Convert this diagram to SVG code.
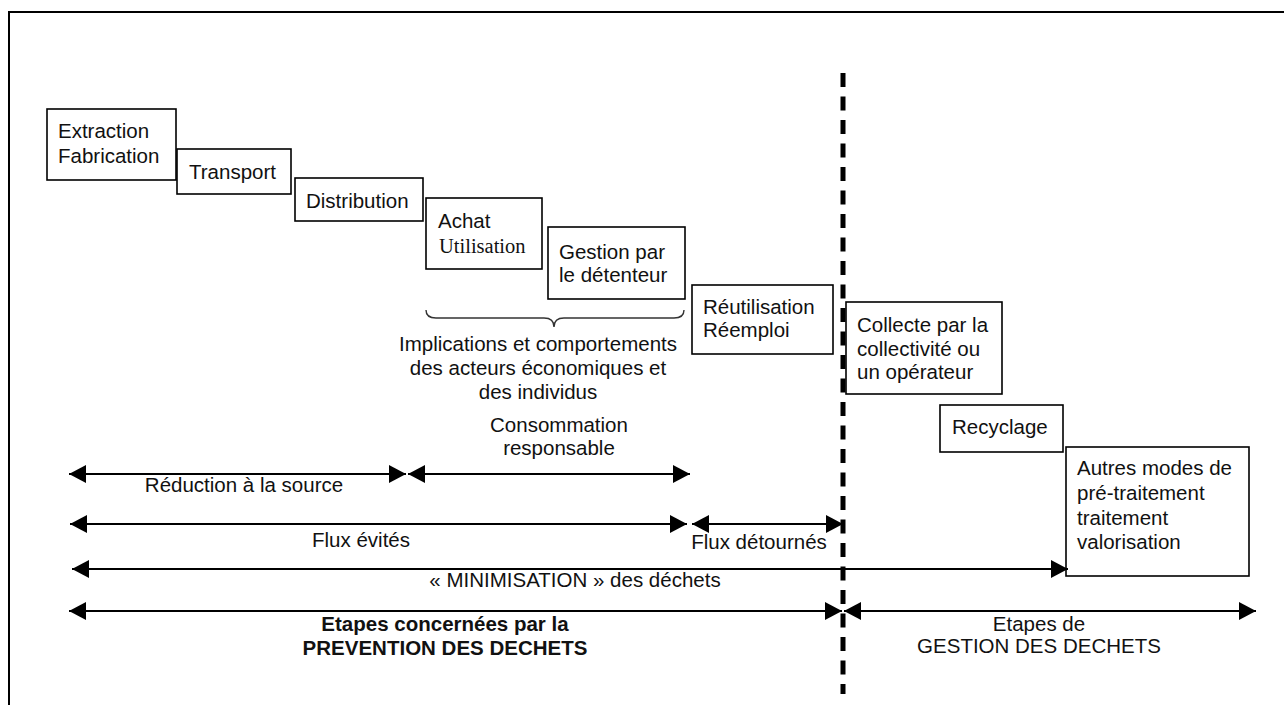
<svg xmlns="http://www.w3.org/2000/svg" width="1284" height="705" viewBox="0 0 1284 705">
<defs>
<style>
.box{fill:#fff;stroke:#000;stroke-width:1.6}
.t{font-family:"Liberation Sans",Arial,sans-serif;font-size:20.5px;fill:#111}
.ts{font-family:"Liberation Serif","Times New Roman",serif;font-size:20.5px;fill:#111}
.b{font-weight:bold}
.c{text-anchor:middle}
.ar{stroke:#000;stroke-width:1.8;fill:none;marker-start:url(#ah);marker-end:url(#ah)}
</style>
<marker id="ah" markerUnits="userSpaceOnUse" markerWidth="18" markerHeight="18" refX="17" refY="9" orient="auto-start-reverse">
<path d="M0,0 L17,9 L0,18 z" fill="#000"/>
</marker>
</defs>
<rect width="1284" height="705" fill="#fff"/>
<g id="frame" stroke="#000" stroke-width="2" fill="none">
<path d="M9,705 L9,12 L1284,12"/>
</g>
<g id="divider">
<line x1="843" y1="73" x2="843" y2="694" stroke="#000" stroke-width="5" stroke-dasharray="14 9.5"/>
</g>
<g id="n-extraction"><rect class="box" x="47" y="109" width="129" height="71"/><text class="t" x="58" y="138">Extraction</text><text class="t" x="58" y="163">Fabrication</text></g>
<g id="n-transport"><rect class="box" x="177" y="149" width="114" height="45"/><text class="t" x="189" y="179">Transport</text></g>
<g id="n-distribution"><rect class="box" x="295" y="178" width="128" height="43"/><text class="t" x="306" y="208">Distribution</text></g>
<g id="n-achat"><rect class="box" x="426" y="198" width="116" height="71"/><text class="t" x="438" y="228">Achat</text><text class="ts" x="439" y="253">Utilisation</text></g>
<g id="n-gestion"><rect class="box" x="548" y="227" width="137" height="72"/><text class="t" x="559" y="259">Gestion par</text><text class="t" x="559" y="282">le détenteur</text></g>
<g id="n-reutilisation"><rect class="box" x="692" y="285" width="141" height="69"/><text class="t" x="703" y="314">Réutilisation</text><text class="t" x="703" y="337">Réemploi</text></g>
<g id="n-collecte"><rect class="box" x="846" y="302" width="156" height="92"/><text class="t" x="857" y="332">Collecte par la</text><text class="t" x="857" y="356">collectivité ou</text><text class="t" x="857" y="379">un opérateur</text></g>
<g id="n-recyclage"><rect class="box" x="940" y="405" width="123" height="47"/><text class="t" x="952" y="434">Recyclage</text></g>
<g id="n-autres"><rect class="box" x="1066" y="447" width="183" height="129"/><text class="t" x="1077" y="475">Autres modes de</text><text class="t" x="1077" y="500">pré-traitement</text><text class="t" x="1077" y="525">traitement</text><text class="t" x="1077" y="549">valorisation</text></g>
<g id="brace">
<path d="M426,310 Q426,318 436,318 L544,318 Q554,318 554,327 Q554,318 564,318 L674,318 Q684,318 684,310" fill="none" stroke="#333" stroke-width="1.4"/>
<text class="t c" x="538" y="351">Implications et comportements</text>
<text class="t c" x="538" y="375">des acteurs économiques et</text>
<text class="t c" x="538" y="399">des individus</text>
</g>
<g id="connectors">
<line class="ar" x1="69" y1="474" x2="406" y2="474"/>
<line class="ar" x1="408" y1="474" x2="690" y2="474"/>
<line class="ar" x1="70" y1="524" x2="687" y2="524"/>
<line class="ar" x1="692" y1="524" x2="843" y2="524"/>
<line class="ar" x1="72" y1="569" x2="1068" y2="569"/>
<line class="ar" x1="69" y1="611" x2="842" y2="611"/>
<line class="ar" x1="844" y1="611" x2="1256" y2="611"/>
</g>
<g id="labels">
<text class="t c" x="559" y="432">Consommation</text>
<text class="t c" x="559" y="455">responsable</text>
<text class="t c" x="244" y="492">Réduction à la source</text>
<text class="t c" x="361" y="547">Flux évités</text>
<text class="t c" x="759" y="549">Flux détournés</text>
<text class="t c" x="575" y="587">« MINIMISATION » des déchets</text>
<text class="t b c" x="445" y="631">Etapes concernées par la</text>
<text class="t b c" x="445" y="655">PREVENTION DES DECHETS</text>
<text class="t c" x="1039" y="631">Etapes de</text>
<text class="t c" x="1039" y="653">GESTION DES DECHETS</text>
</g>
</svg>
